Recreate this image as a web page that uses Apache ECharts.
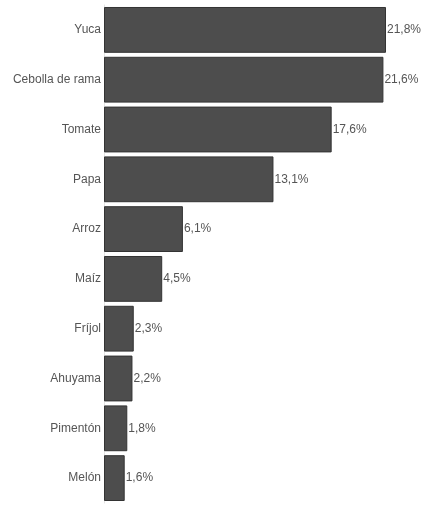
<!DOCTYPE html>
<html>
<head>
<meta charset="utf-8">
<script src="https://cdn.jsdelivr.net/npm/echarts@6/dist/echarts.min.js"></script>
<style>html,body{margin:0;padding:0;background:#fff;}#c{width:425px;height:515px;}</style>
</head>
<body>
<div id="c"></div>
<script>
var categories = ["Yuca", "Cebolla de rama", "Tomate", "Papa", "Arroz", "Maíz", "Fríjol", "Ahuyama", "Pimentón", "Melón"];
var values = [21.8, 21.6, 17.6, 13.1, 6.1, 4.5, 2.3, 2.2, 1.8, 1.6];

var chart = echarts.init(document.getElementById('c'));
var font = "'Liberation Sans Narrow', 'Arial Narrow', 'Liberation Sans', sans-serif";
chart.setOption({
  animation: false,
  backgroundColor: '#fff',
  grid: { left: 104, right: 39, top: 5, bottom: 12, containLabel: false },
  xAxis: { type: 'value', min: 0, max: 21.8, show: false },
  yAxis: {
    type: 'category',
    inverse: true,
    data: categories,
    axisLine: { show: true, lineStyle: { color: '#e4e4e4', width: 1 } },
    axisTick: { show: false },
    axisLabel: { color: '#555', fontSize: 12, fontFamily: font, margin: 3 }
  },
  series: [{
    type: 'bar',
    data: values,
    barCategoryGap: '8%',
    itemStyle: { color: '#4d4d4d', borderColor: '#333', borderWidth: 1 },
    label: {
      show: true,
      position: 'right',
      distance: 1,
      color: '#555',
      fontSize: 12,
      fontFamily: font,
      formatter: function (p) { return String(p.value).replace('.', ',') + '%'; }
    }
  }]
});
</script>
</body>
</html>
